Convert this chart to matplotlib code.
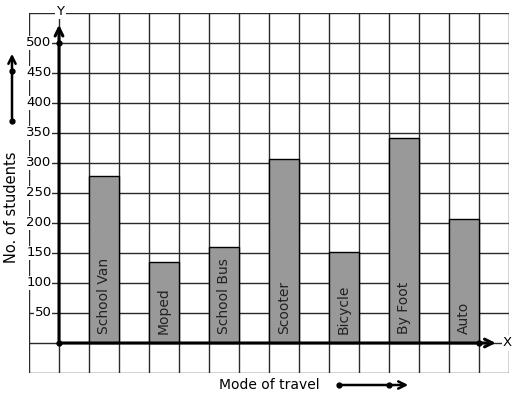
import matplotlib
matplotlib.use("Agg")
import matplotlib.pyplot as plt

# data
modes = ["School Van", "Moped", "School Bus", "Scooter", "Bicycle", "By Foot", "Auto"]
students = [278, 135, 160, 306, 152, 341, 206]
bar_left = [1, 3, 5, 7, 9, 11, 13]
yticks = [50, 100, 150, 200, 250, 300, 350, 400, 450, 500]

W, H = 517, 399
fig = plt.figure(figsize=(W / 100, H / 100), dpi=100)
ax = fig.add_axes([29 / W, (H - 373) / H, 480 / W, 360 / H])
ax.set_xlim(-1, 15)
ax.set_ylim(-50, 550)

# grid
gc = "#2a2a2a"
for gx in range(-1, 16):
    ax.axvline(gx, color=gc, lw=1, zorder=1)
for gy in range(-50, 551, 50):
    ax.axhline(gy, color=gc, lw=1, zorder=1)
for s in ax.spines.values():
    s.set_visible(False)
ax.set_xticks([])
ax.set_yticks([])

# bars
ax.bar(bar_left, students, width=1, align="edge", color="#999999",
       edgecolor="black", linewidth=1, zorder=2)
for x, name in zip(bar_left, modes):
    ax.text(x + 0.5, 15, name, rotation=90, ha="center", va="bottom",
            fontsize=10, color="#222222", zorder=3)

# axes with arrows
ax.annotate("", xy=(0, 535), xytext=(0, 0),
            arrowprops=dict(arrowstyle="->", lw=2.2, color="black",
                            mutation_scale=14), zorder=4)
ax.annotate("", xy=(14.65, 0), xytext=(0, 0),
            arrowprops=dict(arrowstyle="->", lw=2.2, color="black",
                            mutation_scale=14), zorder=4)
ax.plot([0, 0, 14], [0, 500, 0], "o", color="black", ms=3.5, zorder=5,
        clip_on=False)

for v in yticks:
    ax.text(-0.25, v, str(v), ha="right", va="center", fontsize=9.5,
            zorder=3, bbox=dict(boxstyle="square,pad=0.05", fc="white", ec="none"))
ax.text(0.05, 553, "Y", ha="center", va="center", fontsize=9.5, clip_on=False,
        bbox=dict(boxstyle="square,pad=0.1", fc="white", ec="none"), zorder=3)
ax.text(14.95, 0, "X", ha="center", va="center", fontsize=9.5, clip_on=False,
        bbox=dict(boxstyle="square,pad=0.1", fc="white", ec="none"), zorder=3)

# side labels with arrows
fig.text(12 / W, (H - 207) / H, "No. of students", rotation=90,
         ha="center", va="center", fontsize=10.5)
fig.text(269 / W, (H - 385) / H, "Mode of travel", ha="center", va="center",
         fontsize=10)

kw = dict(arrowstyle="->", lw=1.8, color="black", mutation_scale=13)
fig.add_artist(matplotlib.patches.FancyArrowPatch(
    (12, H - 121), (12, H - 51), transform=None, **kw))
fig.add_artist(matplotlib.patches.FancyArrowPatch(
    (339, H - 385), (411, H - 385), transform=None, **kw))
fig.add_artist(plt.Line2D([12, 12], [H - 121, H - 71], marker="o", ls="none",
                          ms=3.5, color="black", transform=None))
fig.add_artist(plt.Line2D([339, 389], [H - 385, H - 385], marker="o", ls="none",
                          ms=3.5, color="black", transform=None))

fig.savefig("out.png", dpi=100)
